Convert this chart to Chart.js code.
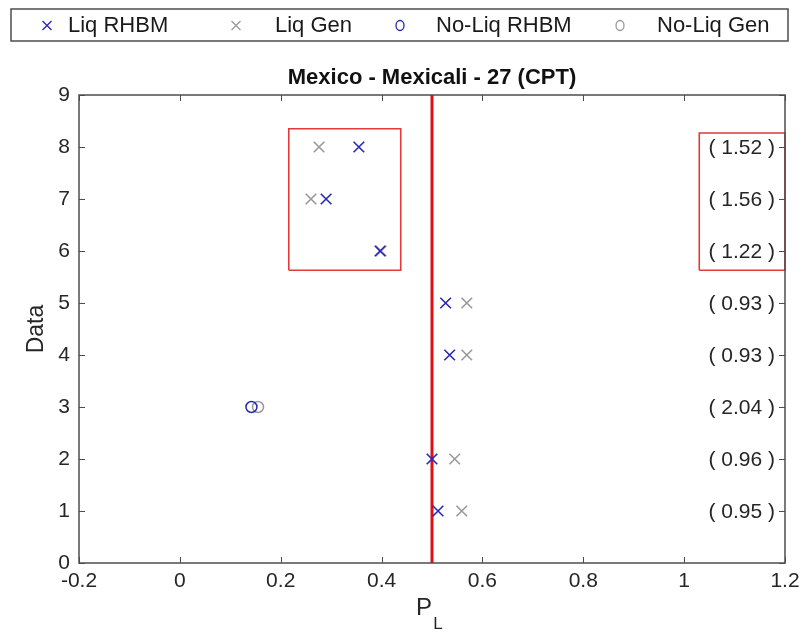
<!DOCTYPE html>
<html>
<head>
<meta charset="utf-8">
<script src="https://cdn.jsdelivr.net/npm/chart.js@4/dist/chart.umd.min.js"></script>
<style>
  html, body { margin: 0; padding: 0; background: #fff; }
  #wrap { width: 803px; height: 642px; }
</style>
</head>
<body>
<div id="wrap"><canvas id="grafico" width="803" height="642"></canvas></div>
<script>
// dados
const dataRows = [1, 2, 3, 4, 5, 6, 7, 8];
const liqRHBM = [0.512, 0.500, null, 0.535, 0.527, 0.397, 0.290, 0.355];
const liqGen = [0.559, 0.545, null, 0.569, 0.569, 0.399, 0.260, 0.276];
const noLiqRHBM = [null, null, 0.142, null, null, null, null, null];
const noLiqGen = [null, null, 0.155, null, null, null, null, null];
const ratios = ["0.95", "0.96", "2.04", "0.93", "0.93", "1.22", "1.56", "1.52"];
const limite = 0.5;
const caixaA = { x0: 0.216, x1: 0.438, y0: 5.63, y1: 8.35 };
const caixaB = { x0: 1.03, x1: 1.2, y0: 5.63, y1: 8.27 };
const xTicks = [-0.2, 0, 0.2, 0.4, 0.6, 0.8, 1, 1.2];
const yTicks = [0, 1, 2, 3, 4, 5, 6, 7, 8, 9];

const azul = "#2626b8";
const cinza = "#999999";
const vermelho = "#dd1111";
const fonte = "'Liberation Sans', Arial, sans-serif";

function pontos(vals) {
  var out = [];
  for (var i = 0; i < vals.length; i++) {
    if (vals[i] !== null) out.push({ x: vals[i], y: dataRows[i] });
  }
  return out;
}

function retangulo(c) {
  return [
    { x: c.x0, y: c.y0 }, { x: c.x1, y: c.y0 }, { x: c.x1, y: c.y1 },
    { x: c.x0, y: c.y1 }, { x: c.x0, y: c.y0 }
  ];
}

// desenha caixa, ticks internos, rotulos e legenda
const molduraPlugin = {
  id: "moldura",
  afterDraw: function (chart) {
    var ctx = chart.ctx;
    var a = chart.chartArea;
    var sx = chart.scales.x;
    var sy = chart.scales.y;
    ctx.save();

    ctx.strokeStyle = "#4d4d4d";
    ctx.lineWidth = 1.5;
    ctx.strokeRect(a.left, a.top, a.right - a.left, a.bottom - a.top);

    ctx.lineWidth = 1;
    ctx.beginPath();
    xTicks.forEach(function (v) {
      var px = Math.round(sx.getPixelForValue(v)) + 0.5;
      ctx.moveTo(px, a.bottom); ctx.lineTo(px, a.bottom - 6);
      ctx.moveTo(px, a.top); ctx.lineTo(px, a.top + 6);
    });
    yTicks.forEach(function (v) {
      var py = Math.round(sy.getPixelForValue(v)) + 0.5;
      ctx.moveTo(a.left, py); ctx.lineTo(a.left + 6, py);
      ctx.moveTo(a.right, py); ctx.lineTo(a.right - 6, py);
    });
    ctx.stroke();

    // rotulos da razao a direita
    ctx.fillStyle = "#262626";
    ctx.font = "21px " + fonte;
    ctx.textAlign = "right";
    ctx.textBaseline = "middle";
    for (var i = 0; i < dataRows.length; i++) {
      ctx.fillText("( " + ratios[i] + " )", a.right - 10, sy.getPixelForValue(dataRows[i]) + 1);
    }

    // titulo
    ctx.textAlign = "center";
    ctx.font = "bold 22px " + fonte;
    ctx.fillStyle = "#111111";
    ctx.fillText("Mexico - Mexicali - 27 (CPT)", (a.left + a.right) / 2, 78);

    // titulos dos eixos
    ctx.font = "24px " + fonte;
    ctx.fillStyle = "#262626";
    ctx.fillText("P", 424, 608);
    ctx.font = "17px " + fonte;
    ctx.fillText("L", 438, 624);
    ctx.save();
    ctx.translate(37, (a.top + a.bottom) / 2);
    ctx.rotate(-Math.PI / 2);
    ctx.font = "23px " + fonte;
    ctx.fillText("Data", 0, 0);
    ctx.restore();

    // legenda
    ctx.strokeStyle = "#4d4d4d";
    ctx.lineWidth = 1.5;
    ctx.strokeRect(11, 9, 777, 32);
    var itens = [
      { ds: 0, mx: 47, tx: 68 },
      { ds: 1, mx: 236, tx: 275 },
      { ds: 2, mx: 400, tx: 436 },
      { ds: 3, mx: 620, tx: 657 }
    ];
    itens.forEach(function (it) {
      var d = chart.data.datasets[it.ds];
      ctx.strokeStyle = d.borderColor;
      ctx.lineWidth = 1.3;
      ctx.beginPath();
      if (d.pointStyle === "crossRot") {
        ctx.moveTo(it.mx - 4.5, 21); ctx.lineTo(it.mx + 4.5, 30);
        ctx.moveTo(it.mx + 4.5, 21); ctx.lineTo(it.mx - 4.5, 30);
      } else {
        ctx.ellipse(it.mx, 25.5, 4, 5, 0, 0, Math.PI * 2);
      }
      ctx.stroke();
      ctx.fillStyle = "#1a1a1a";
      ctx.font = "22px " + fonte;
      ctx.textAlign = "left";
      ctx.fillText(d.label, it.tx, 26);
    });

    ctx.restore();
  }
};

const ctx = document.getElementById("grafico").getContext("2d");
const myChart = new Chart(ctx, {
  type: "scatter",
  data: {
    datasets: [
      { label: "Liq RHBM", data: pontos(liqRHBM), pointStyle: "crossRot", radius: 7.5, borderColor: azul, backgroundColor: azul, borderWidth: 1.6 },
      { label: "Liq Gen", data: pontos(liqGen), pointStyle: "crossRot", radius: 7.5, borderColor: cinza, backgroundColor: cinza, borderWidth: 1.6 },
      { label: "No-Liq RHBM", data: pontos(noLiqRHBM), pointStyle: "circle", radius: 5.5, borderColor: azul, backgroundColor: "rgba(0,0,0,0)", borderWidth: 1.5 },
      { label: "No-Liq Gen", data: pontos(noLiqGen), pointStyle: "circle", radius: 5.5, borderColor: cinza, backgroundColor: "rgba(0,0,0,0)", borderWidth: 1.5 },
      { label: "limite", type: "line", data: [{ x: limite, y: 0 }, { x: limite, y: 9 }], borderColor: vermelho, borderWidth: 3, pointRadius: 0, fill: false },
      { label: "caixaA", type: "line", data: retangulo(caixaA), borderColor: "#e03a3a", borderWidth: 1.6, pointRadius: 0, fill: false, tension: 0 },
      { label: "caixaB", type: "line", data: retangulo(caixaB), borderColor: "#e03a3a", borderWidth: 1.6, pointRadius: 0, fill: false, tension: 0, clip: false }
    ]
  },
  options: {
    responsive: false,
    animation: false,
    layout: { padding: { top: 95, right: 18, left: 0, bottom: 0 } },
    plugins: { legend: { display: false }, tooltip: { enabled: false } },
    scales: {
      x: {
        type: "linear", min: -0.2, max: 1.2,
        afterBuildTicks: function (s) { s.ticks = xTicks.map(function (v) { return { value: v }; }); },
        afterFit: function (s) { s.height = 79; s.paddingLeft = 0; s.paddingRight = 0; },
        grid: { display: false, drawTicks: false },
        border: { display: false },
        ticks: {
          padding: 6, color: "#262626", font: { size: 21, family: fonte },
          callback: function (v) { return String(Number(v.toFixed(1))); }
        }
      },
      y: {
        type: "linear", min: 0, max: 9,
        afterBuildTicks: function (s) { s.ticks = yTicks.map(function (v) { return { value: v }; }); },
        afterFit: function (s) { s.width = 79; s.paddingTop = 0; s.paddingBottom = 0; },
        grid: { display: false, drawTicks: false },
        border: { display: false },
        ticks: { padding: 9, color: "#262626", font: { size: 21, family: fonte } }
      }
    }
  },
  plugins: [molduraPlugin]
});
</script>
</body>
</html>
